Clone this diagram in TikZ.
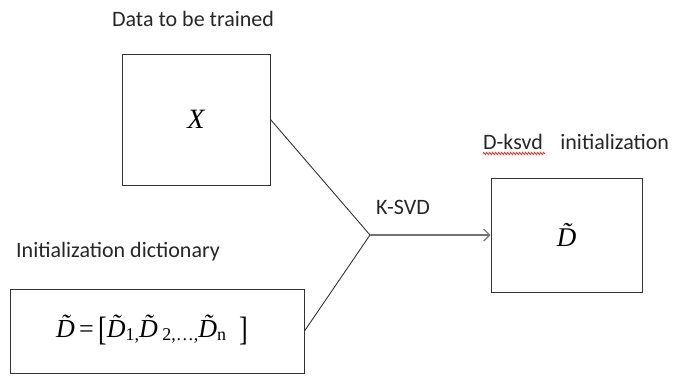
\documentclass[tikz,border=0pt]{standalone}
\usepackage{fontspec}
\setmainfont{Carlito}
\newfontfamily\tnr{Liberation Serif}
\usetikzlibrary{arrows.meta,decorations.pathmorphing}
\newcommand{\Dtil}{\~{D}}
\tikzset{
  box/.style={draw=black!80, line width=1pt, inner sep=0pt},
  lbl/.style={font=\fontsize{22}{25}\selectfont, text=black!85, inner sep=0pt},
  conn/.style={draw=black!80, line width=0.9pt},
  arr/.style={draw=black!55, line width=1.6pt, -{Straight Barb[length=6pt,width=12pt,line width=1.2pt]}}
}
\begin{document}
\begin{tikzpicture}[x=1pt,y=-1pt]
\useasboundingbox (0,0) rectangle (673,376);
\node[box, minimum width=148pt, minimum height=131pt] (X) at (196,119.5) {};
\node[box, minimum width=294pt, minimum height=84pt] (B) at (157,331) {};
\node[box, minimum width=151pt, minimum height=114pt] (D) at (566.5,235) {};
\node[font=\tnr\itshape\fontsize{28}{30}\selectfont] (xt) at (X.center) {X};
\node[font=\tnr\itshape\fontsize{27}{30}\selectfont] (dt) at (D.center) {\Dtil};
\node[font=\tnr\fontsize{26}{30}\selectfont, inner sep=0pt] (bt) at (152,330)
 {\itshape\Dtil\upshape\,=\,\raisebox{-0.12em}{\scalebox{1}[1.3]{[}}\itshape\Dtil\upshape\raisebox{-0.12em}{\fontsize{18}{21}\selectfont 1,}\itshape\Dtil\upshape\raisebox{-0.12em}{\fontsize{18}{21}\selectfont\ 2,…,}\itshape\Dtil\upshape\raisebox{-0.12em}{\fontsize{18}{21}\selectfont n}\hspace{0.5em}\raisebox{-0.12em}{\scalebox{1}[1.3]{]}}};
\node[lbl] (t1) at (193,19) {Data to be trained};
\node[lbl, anchor=west] (t2) at (16,252) {Initialization dictionary};
\node[lbl, anchor=west] (t3) at (483,142) {D-ksvd\hspace{0.8em}initialization};
\node[lbl] (t4) at (403,207) {K-SVD};
\coordinate (u1) at (483,153.5);
\coordinate (u2) at (545,153.5);
\coordinate (j) at (370,235);
\draw[red, line width=0.6pt, decorate, decoration={zigzag, amplitude=1.2pt, segment length=3pt}] (u1) -- (u2);
\draw[conn] (X.east) -- (j) -- (B.east);
\draw[arr] (j) -- (D.west);
\end{tikzpicture}
\end{document}
